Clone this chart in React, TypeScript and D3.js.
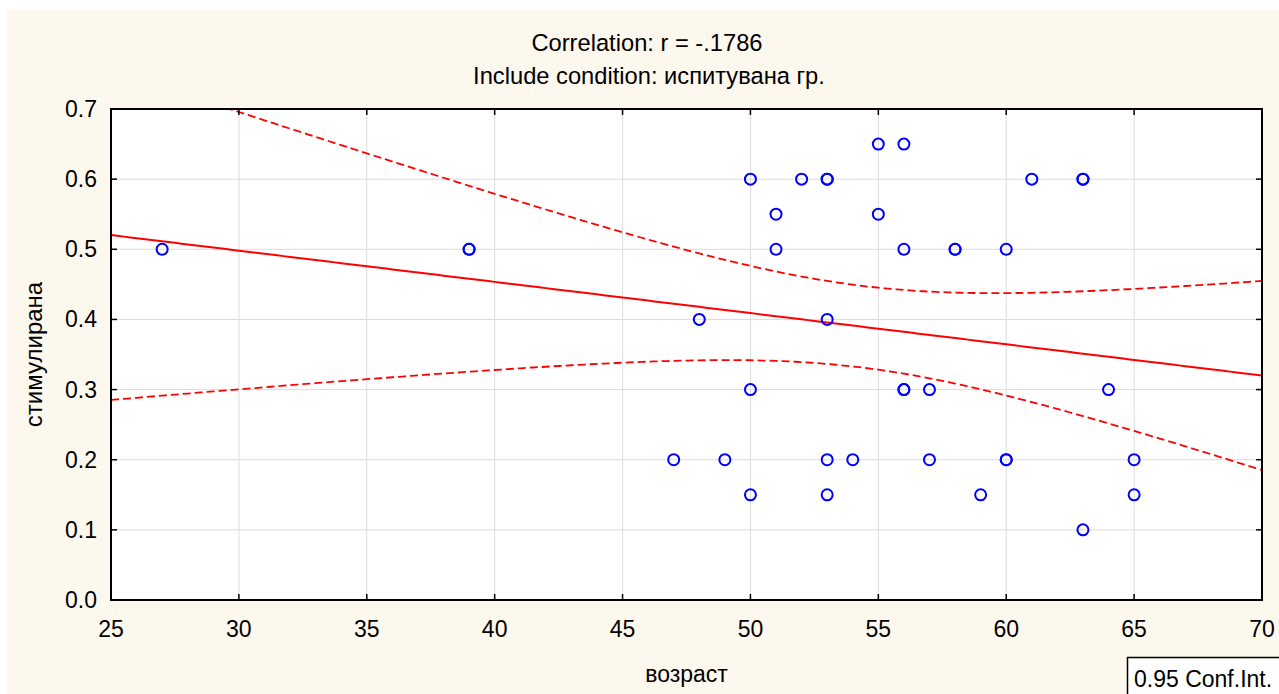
import React from "react";
import * as d3 from "d3";

// возраст (age) and стимулирана values, one entry per subject
const ages = [
  27, 39, 39, 47, 48, 49, 50, 50, 50, 51, 51, 52, 53, 53, 53, 53, 53, 54, 55, 55,
  56, 56, 56, 56, 57, 57, 58, 58, 59, 60, 60, 60, 61, 63, 63, 63, 64, 65, 65,
];
const stimulated = [
  0.5, 0.5, 0.5, 0.2, 0.4, 0.2, 0.6, 0.3, 0.15, 0.55, 0.5, 0.6, 0.6, 0.6, 0.4, 0.2, 0.15, 0.2, 0.65, 0.55,
  0.65, 0.5, 0.3, 0.3, 0.3, 0.2, 0.5, 0.5, 0.15, 0.5, 0.2, 0.2, 0.6, 0.6, 0.6, 0.1, 0.3, 0.2, 0.15,
];
const xTicks = [25, 30, 35, 40, 45, 50, 55, 60, 65, 70];
const yTicks = [0, 0.1, 0.2, 0.3, 0.4, 0.5, 0.6, 0.7];
const titleLines = ["Correlation: r = -.1786", "Include condition: испитувана гр."];
const xLabel = "возраст";
const yLabel = "стимулирана";
const ciLabel = "0.95 Conf.Int.";
const tCrit = 2.026; // two-sided 95% t quantile, df = n - 2

const W = 1279;
const H = 694;
const M = { left: 111, right: 1262, top: 109, bottom: 600 };
const FONT = "'Liberation Sans', Arial, sans-serif";
const FS = 23;

export default function App() {
  const x = d3.scaleLinear().domain([25, 70]).range([M.left, M.right]);
  const y = d3.scaleLinear().domain([0, 0.7]).range([M.bottom, M.top]);

  // least-squares fit with confidence band for the mean
  const n = ages.length;
  const xm = d3.mean(ages)!;
  const ym = d3.mean(stimulated)!;
  let sxx = 0, sxy = 0, syy = 0;
  ages.forEach((a, i) => {
    sxx += (a - xm) ** 2;
    sxy += (a - xm) * (stimulated[i] - ym);
    syy += (stimulated[i] - ym) ** 2;
  });
  const slope = sxy / sxx;
  const icpt = ym - slope * xm;
  const s = Math.sqrt((syy - (sxy * sxy) / sxx) / (n - 2));
  const grid = d3.range(25, 70.001, 0.25);
  const fit = (a: number) => icpt + slope * a;
  const hw = (a: number) => tCrit * s * Math.sqrt(1 / n + (a - xm) ** 2 / sxx);

  const path = (f: (a: number) => number) =>
    d3.line<number>().x((a) => x(a)).y((a) => y(f(a)))(grid) || "";

  return (
    <svg
      width={W}
      height={H}
      style={{ position: "absolute", left: 0, top: 0, background: "#ffffff" }}
      fontFamily={FONT}
    >
      <defs>
        <clipPath id="plotClip">
          <rect x={M.left} y={M.top} width={M.right - M.left} height={M.bottom - M.top} />
        </clipPath>
      </defs>
      <rect x={7} y={10} width={W - 7} height={H - 10} fill="#fdf8ee" />
      <rect x={M.left} y={M.top} width={M.right - M.left} height={M.bottom - M.top} fill="#ffffff" />

      {/* grid */}
      {xTicks.map((t) => (
        <line key={"gx" + t} x1={x(t)} x2={x(t)} y1={M.top} y2={M.bottom} stroke="#dcdcdc" strokeWidth={1} />
      ))}
      {yTicks.map((t) => (
        <line key={"gy" + t} x1={M.left} x2={M.right} y1={y(t)} y2={y(t)} stroke="#dcdcdc" strokeWidth={1} />
      ))}

      <g clipPath="url(#plotClip)">
        <path d={path(fit)} fill="none" stroke="#ff0000" strokeWidth={2} />
        <path d={path((a) => fit(a) + hw(a))} fill="none" stroke="#ff0000" strokeWidth={1.8} strokeDasharray="8,4" />
        <path d={path((a) => fit(a) - hw(a))} fill="none" stroke="#ff0000" strokeWidth={1.8} strokeDasharray="8,4" />
      </g>

      {ages.map((a, i) => (
        <circle key={i} cx={x(a)} cy={y(stimulated[i])} r={5.5} fill="none" stroke="#0000ff" strokeWidth={2} />
      ))}

      {/* frame and inward ticks */}
      <rect x={M.left} y={M.top} width={M.right - M.left} height={M.bottom - M.top} fill="none" stroke="#000" strokeWidth={2} />
      {xTicks.map((t) => (
        <g key={"tx" + t}>
          <line x1={x(t)} x2={x(t)} y1={M.bottom} y2={M.bottom - 6} stroke="#000" strokeWidth={1.5} />
          <line x1={x(t)} x2={x(t)} y1={M.top} y2={M.top + 6} stroke="#000" strokeWidth={1.5} />
          <text x={x(t)} y={637} textAnchor="middle" fontSize={FS} fill="#000">
            {t}
          </text>
        </g>
      ))}
      {yTicks.map((t) => (
        <g key={"ty" + t}>
          <line x1={M.left} x2={M.left + 6} y1={y(t)} y2={y(t)} stroke="#000" strokeWidth={1.5} />
          <line x1={M.right} x2={M.right - 6} y1={y(t)} y2={y(t)} stroke="#000" strokeWidth={1.5} />
          <text x={97} y={y(t) + 8} textAnchor="end" fontSize={FS} fill="#000">
            {d3.format(".1f")(t)}
          </text>
        </g>
      ))}

      {/* titles */}
      <text x={647} y={51} textAnchor="middle" fontSize={23.7} fill="#000">
        {titleLines[0]}
      </text>
      <text x={649} y={84} textAnchor="middle" fontSize={23.7} fill="#000">
        {titleLines[1]}
      </text>
      <text x={(M.left + M.right) / 2} y={682} textAnchor="middle" fontSize={FS} fill="#000">
        {xLabel}
      </text>
      <text
        transform={`translate(42, ${(M.top + M.bottom) / 2}) rotate(-90)`}
        textAnchor="middle"
        fontSize={24}
        fill="#000"
      >
        {yLabel}
      </text>

      {/* legend box */}
      <rect x={1127.5} y={657.5} width={160} height={50} fill="#ffffff" stroke="#000" strokeWidth={1.5} />
      <text x={1134} y={687} fontSize={FS} fill="#000">
        {ciLabel}
      </text>
    </svg>
  );
}
